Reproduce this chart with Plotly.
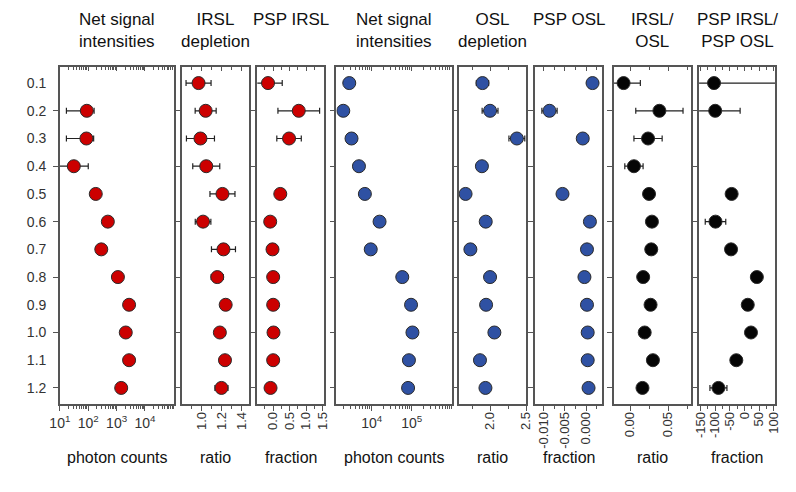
import plotly.graph_objects as go

# Preheat temperature levels (rows shared by all panels)
levels = [0.1, 0.2, 0.3, 0.4, 0.5, 0.6, 0.7, 0.8, 0.9, 1.0, 1.1, 1.2]
level_labels = ["0.1", "0.2", "0.3", "0.4", "0.5", "0.6", "0.7", "0.8", "0.9", "1.0", "1.1", "1.2"]

# IRSL panels
irsl_counts = [None, 89, 86, 31, 184, 490, 288, 1110, 2750, 2100, 2750, 1450]
irsl_counts_err = [0, 72, 69, 69, 0, 0, 0, 0, 0, 0, 0, 0]
irsl_depletion = [0.971, 1.042, 0.99, 1.048, 1.21, 1.016, 1.22, 1.158, 1.242, 1.184, 1.235, 1.2]
irsl_depletion_err = [0.125, 0.105, 0.14, 0.135, 0.125, 0.078, 0.12, 0.06, 0, 0, 0, 0.065]
psp_irsl = [-0.156, 0.774, 0.48, None, 0.215, -0.09, -0.02, 0.0, 0.0, 0.01, 0.0, -0.08]
psp_irsl_err = [0.43, 0.63, 0.37, 0, 0, 0, 0, 0, 0, 0, 0, 0]

# OSL panels
osl_counts = [2750, 1950, 3130, 4800, 6750, 15700, 9460, 58000, 96000, 104000, 85000, 81000]
osl_counts_err = [0] * 12
osl_depletion = [1.895, 2.0, 2.372, 1.887, 1.66, 1.94, 1.727, 2.0, 1.945, 2.06, 1.86, 1.936]
osl_depletion_err = [0.085, 0.11, 0.11, 0, 0, 0, 0, 0, 0, 0, 0, 0]
psp_osl = [0.00154, -0.00862, -0.00077, None, -0.00555, 0.00092, 0.00023, -0.00037, 0.00023, 0.0004, 0.0004, 0.0006]
psp_osl_err = [0, 0.0018, 0, 0, 0, 0, 0, 0, 0, 0, 0, 0]

# Ratio panels
irsl_osl = [-0.0085, 0.0385, 0.0236, 0.0051, 0.0249, 0.0287, 0.0278, 0.0172, 0.0269, 0.0192, 0.030, 0.0163]
irsl_osl_err = [0.022, 0.031, 0.0185, 0.012, 0, 0, 0, 0, 0, 0, 0, 0]
psp_ratio = [-104, -100, None, None, -44, -99, -46, 42, 11, 22, -28, -89]
psp_ratio_err = [400, 85, 0, 0, 0, 35, 0, 0, 0, 0, 0, 29]

titles = ["Net signal<br>intensities", "IRSL<br>depletion", "PSP IRSL",
          "Net signal<br>intensities", "OSL<br>depletion", "PSP OSL",
          "IRSL/<br>OSL", "PSP IRSL/<br>PSP OSL"]
units = ["photon counts", "ratio", "fraction", "photon counts", "ratio",
         "fraction", "ratio", "fraction"]

RED = "#cc0000"
BLUE = "#2f51a3"
BLACK = "#050505"

W, H = 796, 492
FRAME = "#555555"
TEXT = "#333333"
FONT = "Liberation Sans, Arial, sans-serif"

# panel pixel extents (left, right) and common vertical extent
px_cols = [(50, 167), (175, 244), (252, 320), (333, 451),
           (458, 527), (536, 605), (617, 696), (704, 782)]
top_px, bot_px = 67, 404


def log_minor(lo, hi):
    out = []
    for e in range(lo, hi + 1):
        for k in range(2, 10):
            out.append(k * 10 ** e)
    return out


panels = [
    dict(v=irsl_counts, e=irsl_counts_err, c=RED, type="log", rng=[1.0, 5.03],
         tv=[10, 100, 1000, 10000], tt=["10<sup>1</sup>", "10<sup>2</sup>", "10<sup>3</sup>", "10<sup>4</sup>"],
         mv=log_minor(1, 4) + [100000], angle=0),
    dict(v=irsl_depletion, e=irsl_depletion_err, c=RED, type="linear", rng=[0.806, 1.48],
         tv=[1.0, 1.2, 1.4], tt=["1.0", "1.2", "1.4"], mv=[0.9, 1.1, 1.3], angle=-90),
    dict(v=psp_irsl, e=psp_irsl_err, c=RED, type="linear", rng=[-0.48, 1.53],
         tv=[-0.5, 0.0, 0.5, 1.0, 1.5], tt=["-0.5", "0.0", "0.5", "1.0", "1.5"],
         mv=[-0.25, 0.25, 0.75, 1.25], angle=-90),
    dict(v=osl_counts, e=osl_counts_err, c=BLUE, type="log", rng=[3.12, 6.0],
         tv=[10000, 100000], tt=["10<sup>4</sup>", "10<sup>5</sup>"],
         mv=log_minor(3, 5) + [1000000], angle=0),
    dict(v=osl_depletion, e=osl_depletion_err, c=BLUE, type="linear", rng=[1.564, 2.5],
         tv=[2.0, 2.5], tt=["2.0", "2.5"], mv=[1.75, 2.25], angle=-90),
    dict(v=psp_osl, e=psp_osl_err, c=BLUE, type="linear", rng=[-0.01207, 0.00385],
         tv=[-0.010, -0.005, 0.0], tt=["-0.010", "-0.005", "0.000"],
         mv=[-0.0075, -0.0025, 0.0025], angle=-90),
    dict(v=irsl_osl, e=irsl_osl_err, c=BLACK, type="linear", rng=[-0.021, 0.0803],
         tv=[0.0, 0.05], tt=["0.00", "0.05"], mv=[0.025, 0.075], angle=-90),
    dict(v=psp_ratio, e=psp_ratio_err, c=BLACK, type="linear", rng=[-155, 105],
         tv=[-150, -100, -50, 0, 50, 100], tt=["-150", "-100", "-50", "0", "50", "100"],
         mv=[-125, -75, -25, 25, 75], angle=-90),
]

fig = go.Figure()
layout = dict(
    width=W, height=H, margin=dict(l=0, r=0, t=0, b=0),
    paper_bgcolor="white", plot_bgcolor="white", showlegend=False,
    font=dict(family=FONT, color=TEXT, size=14),
)
ydom = [1 - bot_px / H, 1 - top_px / H]
annotations = []
n = len(panels)

for i, p in enumerate(panels):
    k = i + 1
    xs = "" if k == 1 else str(k)
    top_k = n + k
    fig.add_trace(go.Scatter(
        x=p["v"], y=levels, mode="markers",
        xaxis="x" + xs, yaxis="y" + xs,
        marker=dict(size=13, color=p["c"], line=dict(color="#2a2a2a", width=1)),
        error_x=dict(type="data", array=p["e"], visible=True, color="#222222",
                     thickness=1.2, width=3),
    ))
    # companion trace so the inner top tick axis is drawn
    fig.add_trace(go.Scatter(x=[None], y=[None], xaxis="x" + str(top_k), yaxis="y" + xs,
                             mode="markers", hoverinfo="skip"))
    l, r = px_cols[i]
    dom = [l / W, r / W]
    rotated = p["angle"] != 0
    layout["xaxis" + xs] = dict(
        domain=dom, anchor="y" + xs, type=p["type"], range=p["rng"],
        showline=True, mirror=True, linecolor=FRAME, linewidth=1.5,
        showgrid=False, zeroline=False,
        tickmode="array", tickvals=p["tv"], ticktext=p["tt"], tickangle=p["angle"],
        ticks="outside", ticklen=5, tickwidth=1, tickcolor=FRAME,
        ticklabelstandoff=-4 if rotated else 0,
        tickfont=dict(size=13 if rotated else 14, color=TEXT, family=FONT),
        minor=dict(tickmode="array", tickvals=p["mv"], ticks="outside",
                   ticklen=3, tickwidth=1, tickcolor=FRAME),
    )
    layout["xaxis" + str(top_k)] = dict(
        overlaying="x" + xs, anchor="y" + xs, side="top", type=p["type"],
        range=p["rng"], showline=False, showgrid=False, zeroline=False,
        tickmode="array", tickvals=p["tv"], showticklabels=False,
        ticks="inside", ticklen=4, tickwidth=1, tickcolor=FRAME,
        minor=dict(tickmode="array", tickvals=p["mv"], ticks="inside",
                   ticklen=2.5, tickwidth=1, tickcolor=FRAME),
    )
    layout["yaxis" + xs] = dict(
        domain=ydom, anchor="x" + xs, range=[1.258, 0.042],
        showline=True, mirror=True, linecolor=FRAME, linewidth=1.5,
        showgrid=False, zeroline=False,
        tickmode="array", tickvals=levels, ticktext=level_labels,
        showticklabels=(k == 1), ticks="", ticklabelstandoff=9,
        tickfont=dict(size=14, color=TEXT, family=FONT),
        minor=dict(tickmode="array", tickvals=levels[1::2], ticks="outside",
                   ticklen=5, tickwidth=1, tickcolor=FRAME),
    )
    cx = (l + r) / 2 / W
    annotations.append(dict(
        text=titles[i], x=cx, y=1 - 8 / H, xref="paper", yref="paper",
        xanchor="center", yanchor="top", showarrow=False, align="center",
        font=dict(size=17, color="#111111", family=FONT),
    ))
    annotations.append(dict(
        text=units[i], x=cx, y=1 - 457 / H, xref="paper", yref="paper",
        xanchor="center", yanchor="middle", showarrow=False,
        font=dict(size=16, color="#111111", family=FONT),
    ))

layout["annotations"] = annotations
fig.update_layout(**layout)
fig.write_html("out.html")
